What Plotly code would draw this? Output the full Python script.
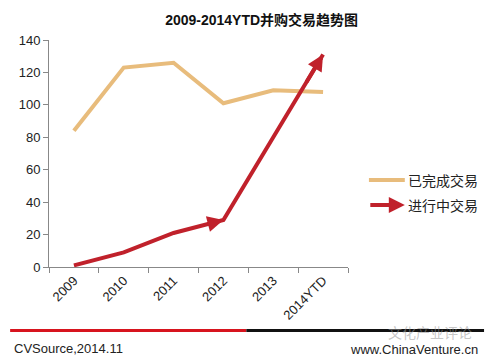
import plotly.graph_objects as go

categories = ["2009", "2010", "2011", "2012", "2013", "2014YTD"]
completed = [84, 123, 126, 101, 109, 108]
in_progress = [1, 9, 21, 29, 80, 131]
y_ticks = [0, 20, 40, 60, 80, 100, 120, 140]

TAN = "#E8BC7C"
RED = "#C0212B"
FONT = "Liberation Sans, Noto Sans CJK SC, sans-serif"
CJK = "Noto Sans CJK SC, Liberation Sans, sans-serif"

fig = go.Figure()
fig.add_trace(go.Scatter(x=categories, y=completed, mode="lines", name="已完成交易",
                         line=dict(color=TAN, width=4), showlegend=False, hoverinfo="skip"))
fig.add_trace(go.Scatter(x=categories, y=in_progress, mode="lines", name="进行中交易",
                         line=dict(color=RED, width=4), showlegend=False, hoverinfo="skip"))

# arrowheads at 2012 and at the last point
for i in (3, 5):
    fig.add_annotation(x=i, y=in_progress[i], ax=i - 0.35,
                       ay=in_progress[i - 1] + (in_progress[i] - in_progress[i - 1]) * 0.65,
                       xref="x", yref="y", axref="x", ayref="y", text="",
                       showarrow=True, arrowhead=2, arrowsize=0.8, arrowwidth=4,
                       arrowcolor=RED)

fig.update_layout(
    width=489, height=362,
    margin=dict(l=49, r=141, t=40, b=95),
    paper_bgcolor="white", plot_bgcolor="white",
    font=dict(family=FONT, size=12, color="#222"),
    title=dict(text="<b>2009-2014YTD并购交易趋势图</b>", x=0.535, xanchor="center",
               y=0.945, yanchor="middle", font=dict(family=FONT, size=14, color="#111")),
    xaxis=dict(type="category", range=[-0.5, 5.5], tickson="boundaries",
               tickangle=-45, showline=True, linecolor="#888", linewidth=1,
               ticks="outside", ticklen=5, tickcolor="#888", showgrid=False,
               zeroline=False, tickfont=dict(size=13, color="#222")),
    yaxis=dict(range=[0, 140], tickvals=y_ticks, showline=True, linecolor="#888",
               linewidth=1, ticks="outside", ticklen=5, tickcolor="#888",
               showgrid=False, zeroline=False, tickfont=dict(size=13, color="#222")),
)

# manual legend
fig.add_shape(type="line", xref="paper", yref="paper", x0=1.07, x1=1.19, y0=0.383, y1=0.383,
              line=dict(color=TAN, width=4))
fig.add_annotation(xref="paper", yref="paper", x=1.193, y=0.383, text="已完成交易",
                   showarrow=False, xanchor="left", yanchor="middle",
                   font=dict(family=CJK, size=14, color="#222"))
fig.add_annotation(xref="paper", yref="paper", x=1.19, y=0.273, ax=-36, ay=0,
                   axref="pixel", ayref="pixel", text="", showarrow=True, arrowhead=2,
                   arrowsize=0.8, arrowwidth=4, arrowcolor=RED)
fig.add_annotation(xref="paper", yref="paper", x=1.193, y=0.273, text="进行中交易",
                   showarrow=False, xanchor="left", yanchor="middle",
                   font=dict(family=CJK, size=14, color="#222"))

# footer
fig.add_shape(type="line", xref="paper", yref="paper", x0=-0.13, x1=0.66, y0=-0.28, y1=-0.28,
              line=dict(color="#D7141E", width=3))
fig.add_shape(type="line", xref="paper", yref="paper", x0=0.66, x1=1.455, y0=-0.28, y1=-0.28,
              line=dict(color="#111", width=3))
fig.add_annotation(xref="paper", yref="paper", x=-0.125, y=-0.36, text="CVSource,2014.11",
                   showarrow=False, xanchor="left", yanchor="middle",
                   font=dict(family=FONT, size=13, color="#222"))
fig.add_annotation(xref="paper", yref="paper", x=1.44, y=-0.365, text="www.ChinaVenture.cn",
                   showarrow=False, xanchor="right", yanchor="middle",
                   font=dict(family=FONT, size=13, color="#222"))
fig.add_annotation(xref="paper", yref="paper", x=1.42, y=-0.285, text="文化产业评论",
                   showarrow=False, xanchor="right", yanchor="middle",
                   font=dict(family=CJK, size=14, color="rgba(150,150,150,0.55)"))

fig.write_html("out.html", post_script="document.body.style.margin='0';",
               config={"displayModeBar": False})
